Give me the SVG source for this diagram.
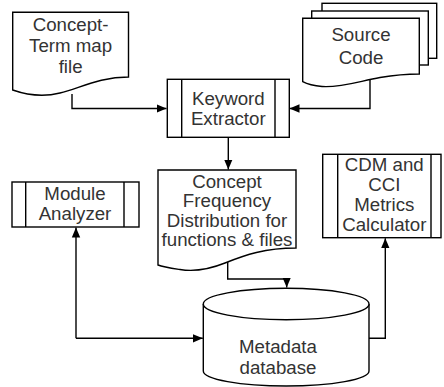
<svg xmlns="http://www.w3.org/2000/svg" width="444" height="387" viewBox="0 0 444 387">
<style>
.s{fill:#fff;stroke:#000;stroke-width:1.4}
.c{fill:none;stroke:#000;stroke-width:1.4}
text{font-family:"Liberation Sans",Arial,sans-serif;font-size:18.7px;fill:#333;text-anchor:middle}
</style>
<defs>
<marker id="a" markerUnits="userSpaceOnUse" markerWidth="12" markerHeight="10" refX="10" refY="5" orient="auto">
<path d="M0,0.8 L10,5 L0,9.2 Z" fill="#000"/>
</marker>
</defs>
<rect width="444" height="387" fill="#fff"/>
<g id="connectors">
<path class="c" d="M72,94 V108.5 H166.5" marker-end="url(#a)"/>
<path class="c" d="M370,78 V108.5 H289.5" marker-end="url(#a)"/>
<path class="c" d="M228.3,137.3 V169.5" marker-end="url(#a)"/>
<path class="c" d="M227.7,262 V279 H286.7 V287.5" marker-end="url(#a)"/>
<path class="c" d="M76,338.3 H202.8" marker-end="url(#a)"/>
<path class="c" d="M76,338.3 V227.5" marker-end="url(#a)"/>
<path class="c" d="M369,338.3 H385.3 V238.2" marker-end="url(#a)"/>
</g>
<g id="concept-term">
<path class="s" d="M12.7,12.3 H128.5 V77 C100,77 80,88 60,93 C42,97.5 27,95 12.7,90 Z"/>
<text x="70.6" y="30.7">Concept-</text>
<text x="70.6" y="51.7">Term map</text>
<text x="70.6" y="72.7">file</text>
</g>
<g id="source-code">
<rect class="s" x="322" y="3.3" width="114.7" height="55"/>
<rect class="s" x="311.7" y="11" width="116.6" height="54"/>
<path class="s" d="M302.7,18.3 H419.3 V74 C405,74 395,75 380,77.5 C360,81 340,88 322,86.5 C312,85.7 307,84 302.7,81.7 Z"/>
<text x="361" y="40.7">Source</text>
<text x="361" y="64">Code</text>
</g>
<g id="keyword-extractor">
<rect class="s" x="167.3" y="79.3" width="122" height="58"/>
<path class="c" d="M181.7,79.3 V137.3 M275,79.3 V137.3"/>
<text x="228.3" y="105">Keyword</text>
<text x="228.3" y="125">Extractor</text>
</g>
<g id="module-analyzer">
<rect class="s" x="12" y="182" width="127" height="45"/>
<path class="c" d="M25.7,182 V227 M124,182 V227"/>
<text x="75" y="200">Module</text>
<text x="75" y="220">Analyzer</text>
</g>
<g id="concept-frequency">
<path class="s" d="M158,170 H296 V248 C265,248 245,255 225,263 C210,269 195,272 180,269.5 C170,268 163,267 158,265 Z"/>
<text x="227" y="187.5">Concept</text>
<text x="227" y="207">Frequency</text>
<text x="227" y="226.5">Distribution for</text>
<text x="227" y="246">functions &amp; files</text>
</g>
<g id="cdm-cci">
<rect class="s" x="322.7" y="154.3" width="118.3" height="83.4"/>
<path class="c" d="M337.7,154.3 V237.7 M431,154.3 V237.7"/>
<text x="384.3" y="171">CDM and</text>
<text x="384.3" y="191">CCI</text>
<text x="384.3" y="211">Metrics</text>
<text x="384.3" y="231">Calculator</text>
</g>
<g id="metadata-db">
<path class="s" d="M203.3,304 V371 A82.85,15 0 0 0 369,371 V304"/>
<ellipse class="s" cx="286.15" cy="304" rx="82.85" ry="15.7"/>
<text x="278" y="352.5">Metadata</text>
<text x="278" y="374">database</text>
</g>
</svg>
